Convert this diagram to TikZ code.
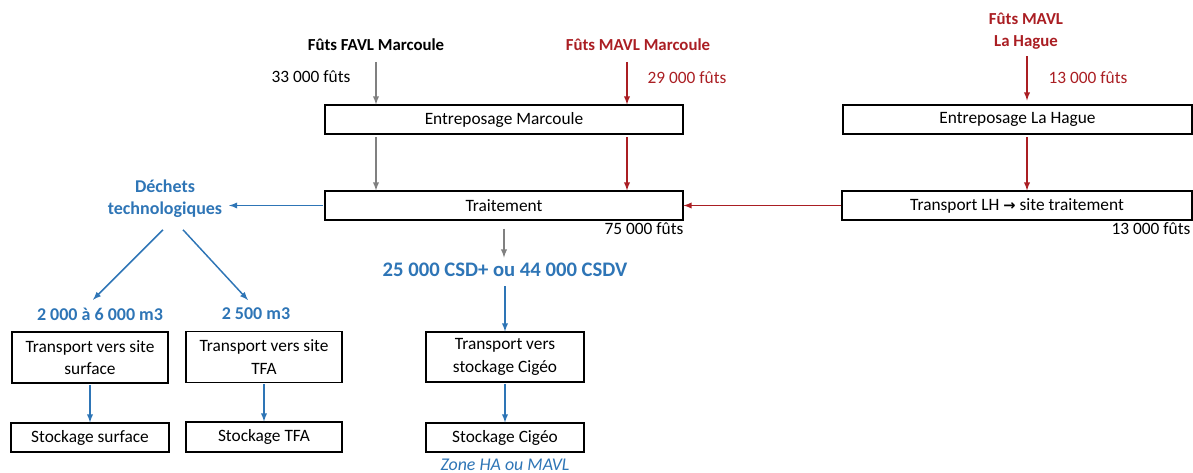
\documentclass[tikz,border=0pt]{standalone}
\usepackage{fontspec}
\setmainfont{Carlito}
\newfontfamily\arrowfont{DejaVu Sans}
\usepackage{tikz}
\usepackage{xcolor}
\tikzset{>=latex}
\usetikzlibrary{calc}
\definecolor{darkred}{RGB}{170,30,35}
\definecolor{flowblue}{RGB}{46,117,182}
\definecolor{flowgray}{RGB}{128,128,128}
\tikzset{
  box/.style={draw, line width=0.8pt, inner sep=0pt, align=center, font=\fontsize{13}{17}\selectfont},
  lbl/.style={inner sep=2pt, align=center, font=\fontsize{13}{16.5}\selectfont},
  title/.style={lbl, font=\fontsize{12.6}{16.5}\selectfont\bfseries},
  bluetitle/.style={lbl, flowblue, font=\fontsize{13.5}{16.5}\selectfont\bfseries},
  grayarr/.style={->, flowgray, line width=1.1pt},
  redarr/.style={->, darkred, line width=1.1pt},
  bluearr/.style={->, flowblue, line width=1.1pt}
}

\begin{document}
\begin{tikzpicture}[x=0.75pt, y=-0.75pt]
      \useasboundingbox (0, 0) rectangle (1193, 473);
      \coordinate (gx) at (376, 0);
      \coordinate (rx) at (627, 0);
      \coordinate (lx) at (1027, 0);
      \node[title] (favl) at (376, 45) {Fûts FAVL Marcoule};
      \node[title, darkred] (mavlm) at (638, 45) {Fûts MAVL Marcoule};
      \node[title, darkred] (mavllh) at (1026, 31) {Fûts MAVL\\La Hague};
      \node[lbl] (n33) at (311, 77) {33 000 fûts};
      \node[lbl, darkred] (n29) at (687, 78) {29 000 fûts};
      \node[lbl, darkred] (n13a) at (1088, 78) {13 000 fûts};
      \node[box, minimum width=268.5pt, minimum height=21.75pt] (em) at (504, 119.5) {Entreposage Marcoule};
      \node[box, minimum width=261.75pt, minimum height=21.75pt] (elh) at (1017.5, 119.5) {Entreposage La Hague};
      \node[box, minimum width=268.5pt, minimum height=21.75pt] (trt) at (504, 205.5) {Traitement};
      \node[box, minimum width=262.5pt, minimum height=21.75pt] (tlh) at (1017, 205.5) {Transport LH {\arrowfont\bfseries\fontsize{11}{12}\selectfont →} site traitement};
      \node[lbl] (n75) at (644, 229) {75 000 fûts};
      \node[lbl] (n13b) at (1151, 229) {13 000 fûts};
      \node[bluetitle] (dechets) at (165, 199) {Déchets\\technologiques};
      \node[bluetitle] (v1) at (100, 314) {2 000 à 6 000 m3};
      \node[bluetitle] (v2) at (256, 314) {2 500 m3};
      \node[bluetitle, font=\fontsize{15.5}{18}\selectfont\bfseries] (csd) at (505, 270) {25 000 CSD+ ou 44 000 CSDV};
      \node[box, minimum width=117pt, minimum height=38.25pt] (tsurf) at (90, 357.5) {Transport vers site\\surface};
      \node[box, minimum width=117pt, minimum height=38.25pt] (ttfa) at (264, 357) {Transport vers site\\TFA};
      \node[box, minimum width=118.5pt, minimum height=37.5pt] (tcig) at (505, 357) {Transport vers\\stockage Cigéo};
      \node[box, minimum width=118.5pt, minimum height=21.75pt] (ssurf) at (90, 437.5) {Stockage surface};
      \node[box, minimum width=117pt, minimum height=22.5pt] (stfa) at (264, 437) {Stockage TFA};
      \node[box, minimum width=118.5pt, minimum height=21.75pt] (scig) at (505, 437.5) {Stockage Cigéo};
      \node[lbl, flowblue, font=\fontsize{13.4}{15}\selectfont\itshape] (zone) at (505, 465) {Zone HA ou MAVL};
      \draw[grayarr, shorten <=6pt] (favl.south -| gx) -- (em.north -| gx);
      \draw[redarr, shorten <=6pt] (mavlm.south -| rx) -- (em.north -| rx);
      \draw[redarr, shorten <=3pt, shorten >=3pt] (mavllh.south -| lx) -- (elh.north -| lx);
      \draw[grayarr, shorten <=2pt] (em.south -| gx) -- (trt.north -| gx);
      \draw[redarr, shorten <=2pt] (em.south -| rx) -- (trt.north -| rx);
      \draw[redarr, shorten <=2pt] (elh.south -| lx) -- (tlh.north -| lx);
      \draw[redarr] (tlh.west) -- (trt.east);
      \draw[bluearr, shorten <=1pt, shorten >=3pt] (trt.west) -- (trt.west -| dechets.east);
      \draw[bluearr] ($(dechets.south)+(-2, 9)$) -- ($(v1.north)+(-7, -5)$);
      \draw[bluearr] ($(dechets.south)+(18, 9)$) -- ($(v2.north)+(-8, -5)$);
      \draw[grayarr, shorten <=6pt, shorten >=2pt] (trt.south) -- (csd.north -| trt.south);
      \draw[bluearr, shorten <=5pt] (csd.south) -- (tcig.north);
      \draw[bluearr, shorten <=1pt] (tsurf.south) -- (ssurf.north);
      \draw[bluearr, shorten <=1pt] (ttfa.south) -- (stfa.north);
      \draw[bluearr, shorten <=1pt] (tcig.south) -- (scig.north);
\end{tikzpicture}
\end{document}
